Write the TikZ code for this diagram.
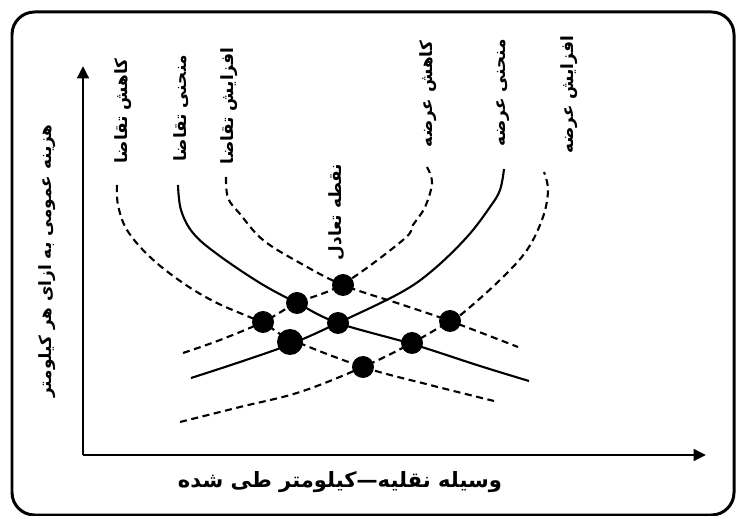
\documentclass[tikz,border=0pt]{standalone}
\usepackage{fontspec}
\newfontfamily\fafont[Script=Arabic]{DejaVu Sans}
\TeXXeTstate=1
\usetikzlibrary{arrows.meta}

\tikzset{
	farsi/.style={inner sep=0pt, font={\fafont\bfseries\fontsize{12}{14}\selectfont}},
	uplabel/.style={inner sep=0pt, rotate=90, font={\fafont\bfseries\fontsize{9.6}{11}\selectfont}},
	shiftcurve/.style={line width=1.2pt, dash pattern=on 4pt off 2.6pt},
	basecurve/.style={line width=1.2pt},
	axis/.style={line width=1.7pt, -{Triangle[length=7pt,width=6.5pt]}},
}

\begin{document}
\begin{tikzpicture}[x=0.02cm, y=-0.02cm]
		%%%%% START %%%%%
		\useasboundingbox (0,0) rectangle (737,516);
		
		\draw[line width=1.7pt, rounded corners=0.45cm] (12,12) rectangle (734,515);
		
		% axes
		\coordinate (O) at (83,455);
		\coordinate (ytip) at (83,66);
		\coordinate (xtip) at (706,455);
		\draw[axis] (O) -- (ytip);
		\draw[axis] (O) -- (xtip);
		
		\node[uplabel] (lblY) at (47,261) {\beginR هزینه عمومی به ازای هر کیلومتر\endR};
		\node[farsi] (lblX) at (340,482) {\beginR وسیله نقلیه—کیلومتر طی شده\endR};
		
		% demand
		\draw[shiftcurve] plot[smooth, tension=0.6] coordinates {(117,185) (118,205) (127,230) (150,257) (183,283) (217,303) (263,323) (290,339) (363,367) (430,385) (494,401)};
		\draw[basecurve] plot[smooth, tension=0.6] coordinates {(178,185) (181,210) (193,233) (217,254) (260,283) (297,303) (338,323) (412,344) (480,366) (529,381)};
		\draw[shiftcurve] plot[smooth, tension=0.6] coordinates {(226,177) (228,198) (240,214) (263,240) (300,263) (343,285) (400,304) (450,321) (518,347)};
		
		% supply
		\draw[shiftcurve] plot[smooth, tension=0.6] coordinates {(183,353) (220,340) (263,322) (297,303) (343,284) (403,240) (413,225) (425,207) (432,183) (427,167)};
		\draw[basecurve] plot[smooth, tension=0.6] coordinates {(191,378) (240,362) (291,344) (338,323) (400,293) (433,270) (467,237) (490,207) (500,190) (504,169)};
		\draw[shiftcurve] plot[smooth, tension=0.6] coordinates {(180,422) (240,407) (300,392) (363,367) (412,343) (450,321) (463,313) (500,280) (527,250) (543,217) (548,190) (544,172)};
		
		% points
		\fill (343,285) circle (11);
		\fill (297,303) circle (11);
		\fill (263,322) circle (11);
		\fill (338,323) circle (11);
		\fill (450,321) circle (11);
		\fill (412,343) circle (11);
		\fill (363,367) circle (11);
		\fill (290,342) circle (13);
		
		\node[uplabel] (lblDm) at (123,111) {\beginR کاهش تقاضا\endR};
		\node[uplabel] (lblD) at (181,108) {\beginR منحنی تقاضا\endR};
		\node[uplabel] (lblDp) at (229,106) {\beginR افزایش تقاضا\endR};
		\node[uplabel] (lblEq) at (337,212) {\beginR نقطه تعادل\endR};
		\node[uplabel] (lblSm) at (428,94) {\beginR کاهش عرضه\endR};
		\node[uplabel] (lblS) at (503,93) {\beginR منحنی عرضه\endR};
		\node[uplabel] (lblSp) at (569,95) {\beginR افزایش عرضه\endR};
		
		%%%%% END %%%%%
	\end{tikzpicture}
\end{document}
